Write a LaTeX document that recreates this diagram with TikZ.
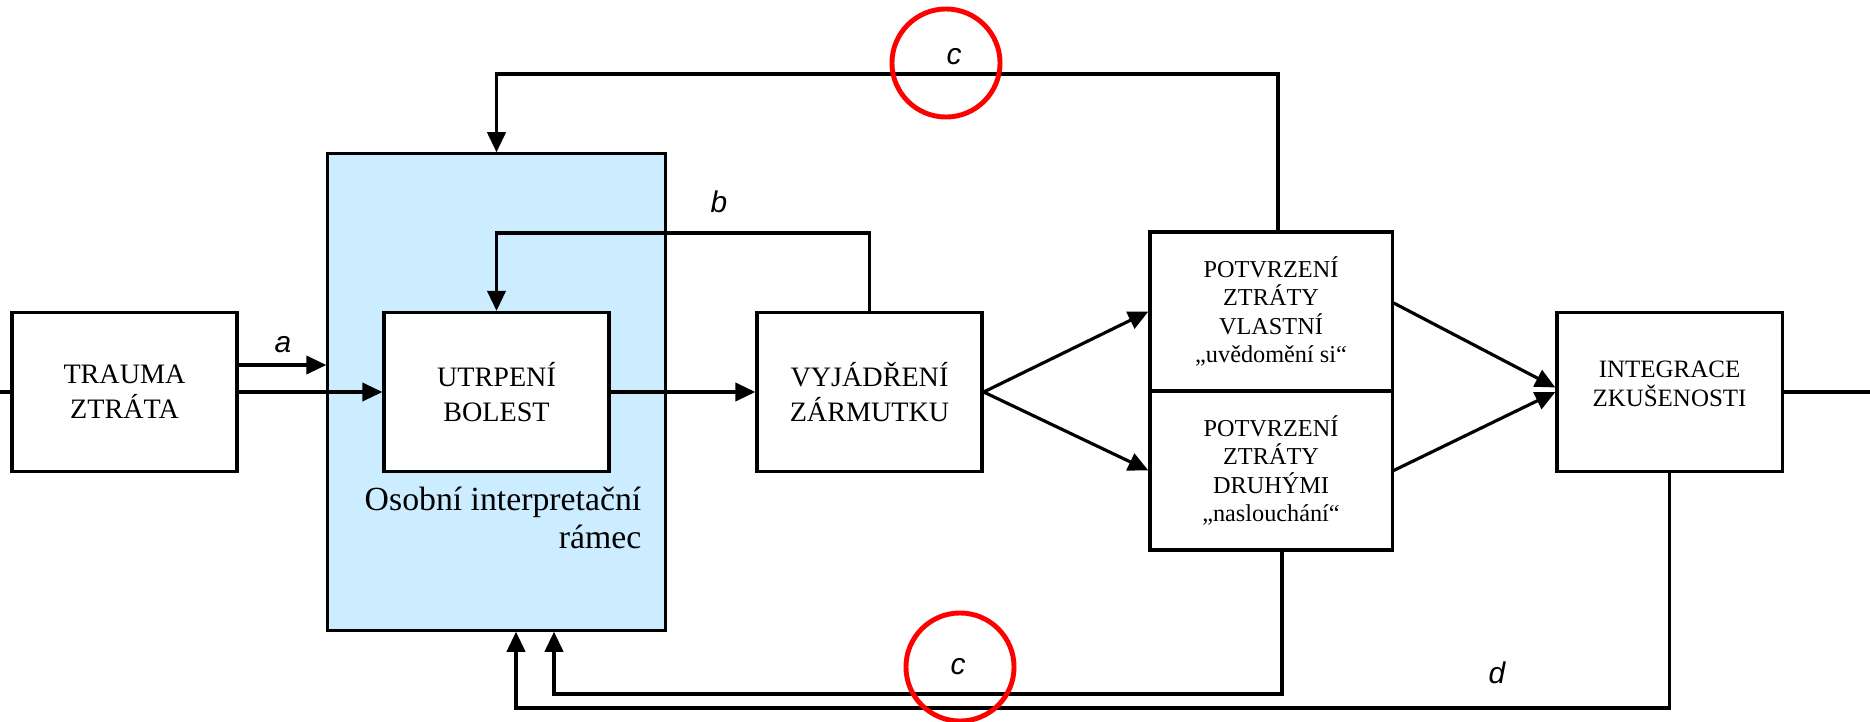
\documentclass[tikz,border=0pt]{standalone}
\usepackage{fontspec}
\setmainfont{Liberation Serif}
\newfontfamily\tagfont{Liberation Sans}
\usetikzlibrary{arrows.meta}
\definecolor{ramecblue}{RGB}{204,236,255}
\tikzset{
  stage/.style={draw, line width=0.9pt, fill=white, align=center, inner sep=0pt,
    minimum width=2.25cm, minimum height=1.59cm, font=\fontsize{8}{9.9}\selectfont},
  potv/.style={stage, minimum width=2.42cm, font=\fontsize{6.9}{8}\selectfont},
  conn/.style={line width=0.9pt},
  arr/.style={conn, -{Triangle[length=5.7pt,width=5.2pt]}},
  tag/.style={font=\tagfont\itshape\fontsize{8.5}{10}\selectfont, inner sep=0pt},
  ring/.style={draw=red, line width=1.4pt, circle, minimum size=1.08cm, inner sep=0pt},
}
\begin{document}
\begin{tikzpicture}[x=0.01cm, y=-0.01cm]
  \useasboundingbox (0,0) rectangle (1870,721);

  \node[draw, line width=0.9pt, fill=ramecblue, minimum width=3.37cm, minimum height=4.76cm] (Ramec) at (496.5,392) {};
  \node[anchor=north east, align=right, inner sep=0pt, font=\fontsize{9.6}{10.8}\selectfont] (RamecText) at (642,486) {Osobní interpretační\\rámec};

  \node[stage] (Trauma) at (124.5,392) {TRAUMA\\ZTRÁTA};
  \node[stage] (Utrpeni) at (496.5,392) {UTRPENÍ\\BOLEST};
  \node[stage] (Vyjadreni) at (869.5,392) {VYJÁDŘENÍ\\ZÁRMUTKU};
  \node[potv] (PotvVlastni) at (1271,311.5) {POTVRZENÍ\\ZTRÁTY\\VLASTNÍ\\„uvědomění si“};
  \node[potv] (PotvDruhymi) at (1271,470.5) {POTVRZENÍ\\ZTRÁTY\\DRUHÝMI\\„naslouchání“};
  \node[stage, font=\fontsize{7.1}{8.25}\selectfont, text depth=0.16cm] (Integrace) at (1669.5,392) {INTEGRACE\\ZKUŠENOSTI};

  \coordinate (In) at (0,392);
  \coordinate (Out) at (1870,392);
  \coordinate (aLine) at (0,365);
  \coordinate (bLine) at (0,233);
  \coordinate (cTop) at (0,74);
  \coordinate (cCorner) at (554,694);
  \coordinate (dCorner) at (516,708);

  \draw[conn] (In) -- (Trauma.west);
  \draw[arr] (Trauma.east |- aLine) -- (Ramec.west |- aLine);
  \draw[arr] (Trauma.east) -- (Utrpeni.west);
  \draw[arr] (Utrpeni.east) -- (Vyjadreni.west);
  \draw[arr] (Vyjadreni.east) -- (PotvVlastni.west);
  \draw[arr] (Vyjadreni.east) -- (PotvDruhymi.west);
  \draw[arr] ([yshift=0.085cm]PotvVlastni.east) -- ([yshift=0.045cm]Integrace.west);
  \draw[arr] (PotvDruhymi.east) -- (Integrace.west);
  \draw[conn] (Integrace.east) -- (Out);

  \draw[arr] (Vyjadreni.north) |- (bLine -| Utrpeni.north) -- (Utrpeni.north);
  \draw[arr] ([xshift=0.07cm]PotvVlastni.north) |- (cTop -| Utrpeni.north) -- (Utrpeni.north |- Ramec.north);
  \draw[arr] ([xshift=0.11cm]PotvDruhymi.south) |- (cCorner) -- (cCorner |- Ramec.south);
  \draw[arr] (Integrace.south) |- (dCorner) -- (dCorner |- Ramec.south);

  \node[tag] (a) at (283,345) {a};
  \node[tag] (b) at (719,202) {b};
  \node[tag] (cUp) at (954,57) {c};
  \node[tag] (cDown) at (958,667) {c};
  \node[tag] (d) at (1497,673) {d};

  \node[ring] (RingUp) at (946,63) {};
  \node[ring] (RingDown) at (960,667) {};
\end{tikzpicture}
\end{document}
